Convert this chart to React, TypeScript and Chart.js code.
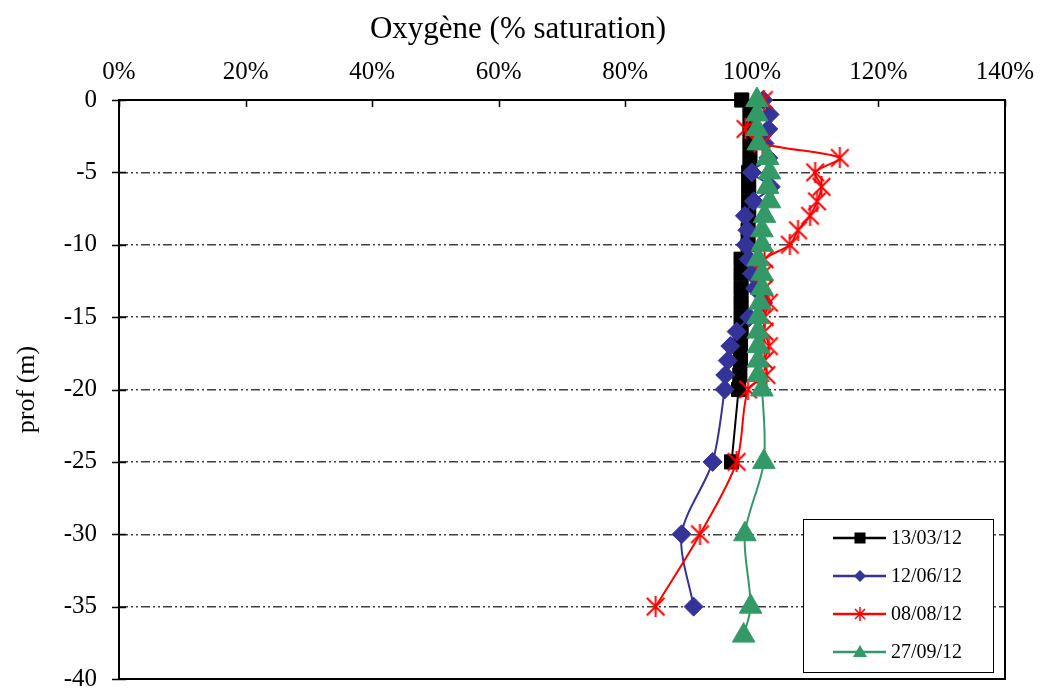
import React, { useEffect, useRef } from 'react';
import { Chart, registerables } from 'chart.js';

Chart.register(...registerables);

// ---- Data ----
const seriesLabels = ['13/03/12', '12/06/12', '08/08/12', '27/09/12'];

const depthsMarch = [0, -1, -2, -3, -4, -5, -6, -7, -8, -9, -10, -11, -12, -13, -14, -15, -16, -17, -18, -19, -20, -25];
const oxyMarch = [98.4, 99.7, 99.7, 99.7, 99.7, 99.5, 99.5, 99.5, 99.5, 99.4, 99.4, 98.3, 98.3, 98.3, 98.3, 98.3, 98.3, 98.2, 98.2, 98.1, 97.9, 96.8];

const depthsJune = [0, -1, -2, -3, -4, -5, -6, -7, -8, -9, -10, -11, -12, -13, -14, -15, -16, -17, -18, -19, -20, -25, -30, -35];
const oxyJune = [101.8, 102.8, 102.6, 102.0, 102.6, 100.0, 103.0, 100.3, 98.9, 99.3, 99.0, 99.5, 100.0, 100.5, 101.8, 99.6, 97.6, 96.6, 96.2, 95.8, 95.7, 93.8, 88.9, 90.8];

const depthsAug = [0, -2, -3, -4, -5, -6, -7, -8, -9, -10, -11, -12, -13, -14, -15, -16, -17, -18, -19, -20, -25, -30, -35];
const oxyAug = [101.9, 99.0, 101.7, 113.9, 110.0, 111.0, 110.3, 109.2, 107.3, 106.0, 102.0, 101.8, 102.0, 102.7, 102.0, 102.0, 102.7, 102.0, 102.3, 99.4, 97.6, 91.8, 84.8];

const depthsSept = [0, -1, -2, -3, -4, -5, -6, -7, -8, -9, -10, -11, -12, -13, -14, -15, -16, -17, -18, -19, -20, -25, -30, -35, -37];
const oxySept = [100.8, 100.8, 100.8, 101.0, 102.5, 102.8, 102.5, 102.8, 102.0, 101.6, 101.6, 101.0, 101.6, 101.6, 101.3, 101.0, 101.0, 101.0, 101.0, 101.0, 101.6, 101.9, 98.9, 99.8, 98.7];

const xMin = 0;
const xMax = 140;
const xStep = 20;
const yMin = -40;
const yMax = 0;
const yStep = 5;

const titleText = 'Oxygène (% saturation)';
const yTitleText = 'prof (m)';

const SERIF = "'Liberation Serif', 'Times New Roman', serif";

const colors = ['#000000', '#333399', '#FF0000', '#339966'];

function toPoints(depths: number[], vals: number[]) {
  return depths.map((d, i) => ({ x: vals[i], y: d }));
}

function makeStarCanvas(size: number, color: string, lw: number) {
  const c = document.createElement('canvas');
  c.width = size;
  c.height = size;
  const g = c.getContext('2d')!;
  g.strokeStyle = color;
  g.lineWidth = lw;
  g.lineCap = 'butt';
  const m = size / 2;
  const d = size * 0.42;
  g.beginPath();
  g.moveTo(m - d, m - d);
  g.lineTo(m + d, m + d);
  g.moveTo(m + d, m - d);
  g.lineTo(m - d, m + d);
  g.moveTo(m, 0);
  g.lineTo(m, size);
  g.stroke();
  return c;
}

function drawLegendMarker(ctx: CanvasRenderingContext2D, idx: number, x: number, y: number) {
  const col = colors[idx];
  ctx.fillStyle = col;
  ctx.strokeStyle = col;
  if (idx === 0) {
    ctx.fillRect(x - 5.5, y - 5.5, 11, 11);
  } else if (idx === 1) {
    ctx.beginPath();
    ctx.moveTo(x, y - 6);
    ctx.lineTo(x + 6, y);
    ctx.lineTo(x, y + 6);
    ctx.lineTo(x - 6, y);
    ctx.closePath();
    ctx.fill();
  } else if (idx === 2) {
    ctx.lineWidth = 1.5;
    ctx.beginPath();
    ctx.moveTo(x - 5, y - 5);
    ctx.lineTo(x + 5, y + 5);
    ctx.moveTo(x + 5, y - 5);
    ctx.lineTo(x - 5, y + 5);
    ctx.moveTo(x, y - 7);
    ctx.lineTo(x, y + 7);
    ctx.stroke();
  } else {
    ctx.beginPath();
    ctx.moveTo(x, y - 7);
    ctx.lineTo(x + 7, y + 5);
    ctx.lineTo(x - 7, y + 5);
    ctx.closePath();
    ctx.fill();
  }
}

const decorPlugin = {
  id: 'decor',
  beforeDatasetsDraw(chart: any) {
    const { ctx, chartArea: a, scales } = chart;
    ctx.save();
    ctx.strokeStyle = '#000';
    ctx.lineWidth = 1.5;
    ctx.beginPath();
    scales.x.ticks.forEach((t: any) => {
      const px = Math.round(scales.x.getPixelForValue(t.value)) + 0.5;
      ctx.moveTo(px, a.top);
      ctx.lineTo(px, a.top + 7);
    });
    scales.y.ticks.forEach((t: any) => {
      const py = Math.round(scales.y.getPixelForValue(t.value)) + 0.5;
      ctx.moveTo(a.left - 7, py);
      ctx.lineTo(a.left + 7, py);
    });
    ctx.stroke();
    ctx.lineWidth = 2;
    ctx.strokeRect(a.left, a.top, a.right - a.left, a.bottom - a.top);
    ctx.restore();
  },
  afterDraw(chart: any) {
    const { ctx } = chart;
    ctx.save();
    // Title
    ctx.fillStyle = '#000';
    ctx.font = `31px ${SERIF}`;
    ctx.textAlign = 'center';
    ctx.textBaseline = 'alphabetic';
    ctx.fillText(titleText, 518, 38);

    // Legend box
    const bx = 803, by = 519, bw = 190, bh = 153;
    ctx.fillStyle = '#fff';
    ctx.fillRect(bx, by, bw, bh);
    ctx.strokeStyle = '#000';
    ctx.lineWidth = 1;
    ctx.strokeRect(bx + 0.5, by + 0.5, bw, bh);
    const rows = [538, 576, 614, 652];
    seriesLabels.forEach((lab, i) => {
      const y = rows[i];
      ctx.strokeStyle = colors[i];
      ctx.lineWidth = 2.5;
      ctx.beginPath();
      ctx.moveTo(833, y);
      ctx.lineTo(886, y);
      ctx.stroke();
      drawLegendMarker(ctx, i, 860, y);
      ctx.fillStyle = '#000';
      ctx.font = `20px ${SERIF}`;
      ctx.textAlign = 'left';
      ctx.textBaseline = 'middle';
      ctx.fillText(lab, 891, y + 1);
    });
    ctx.restore();
  },
};

function zeroPad(s: any) {
  s.paddingLeft = 0;
  s.paddingRight = 0;
  s.paddingTop = 0;
  s.paddingBottom = 0;
}

export default function App() {
  const ref = useRef<HTMLCanvasElement | null>(null);

  useEffect(() => {
    if (!ref.current) return;
    const star = makeStarCanvas(21, '#FF0000', 2);
    const common = {
      showLine: true,
      borderWidth: 2,
      tension: 0.3,
      clip: false as any,
      pointBorderWidth: 1,
    };
    const chart = new Chart(ref.current, {
      type: 'scatter',
      data: {
        datasets: [
          {
            ...common,
            label: seriesLabels[0],
            data: toPoints(depthsMarch, oxyMarch),
            borderColor: colors[0],
            backgroundColor: colors[0],
            pointStyle: 'rect',
            pointRadius: 10,
            order: 3,
          },
          {
            ...common,
            label: seriesLabels[1],
            data: toPoints(depthsJune, oxyJune),
            borderColor: colors[1],
            backgroundColor: colors[1],
            pointStyle: 'rectRot',
            pointRadius: 9.5,
            order: 2,
          },
          {
            ...common,
            label: seriesLabels[2],
            data: toPoints(depthsAug, oxyAug),
            borderColor: colors[2],
            backgroundColor: colors[2],
            pointStyle: star as any,
            pointRadius: 10,
            order: 1,
          },
          {
            ...common,
            label: seriesLabels[3],
            data: toPoints(depthsSept, oxySept),
            borderColor: colors[3],
            backgroundColor: colors[3],
            pointStyle: 'triangle',
            pointRadius: 13,
            order: 0,
          },
        ],
      },
      options: {
        animation: false,
        responsive: false,
        devicePixelRatio: 1,
        layout: { autoPadding: false, padding: { left: 0, right: 36, top: 0, bottom: 10 } },
        plugins: {
          legend: { display: false },
          tooltip: { enabled: false },
          title: { display: false },
        },
        scales: {
          x: {
            type: 'linear',
            position: 'top',
            min: xMin,
            max: xMax,
            ticks: {
              stepSize: xStep,
              color: '#000',
              font: { family: SERIF, size: 25 },
              padding: 13,
              maxRotation: 0,
              callback: (v: any) => `${v}%`,
            },
            grid: { display: false, drawTicks: false },
            border: { display: false },
            afterFit: (s: any) => {
              s.height = 100;
              zeroPad(s);
            },
          },
          y: {
            type: 'linear',
            min: yMin,
            max: yMax,
            ticks: {
              stepSize: yStep,
              color: '#000',
              font: { family: SERIF, size: 25 },
              padding: 22,
              callback: (v: any) => `${v}`,
            },
            title: {
              display: true,
              text: yTitleText,
              color: '#000',
              font: { family: SERIF, size: 26 },
              padding: { top: 12, bottom: 0 },
            },
            grid: {
              drawTicks: false,
              lineWidth: 1.5,
              color: (c: any) =>
                c.tick && (c.tick.value === yMax || c.tick.value === yMin) ? 'rgba(0,0,0,0)' : '#404040',
            },
            border: { display: false, dash: [9, 3, 2, 3, 2, 3] },
            afterFit: (s: any) => {
              s.width = 119;
              zeroPad(s);
            },
          },
        },
      },
      plugins: [decorPlugin],
    } as any);
    return () => chart.destroy();
  }, []);

  return (
    <div style={{ position: 'fixed', left: 0, top: 0, width: 1041, height: 689, background: '#fff' }}>
      <canvas ref={ref} width={1041} height={689} style={{ display: 'block' }} />
    </div>
  );
}
